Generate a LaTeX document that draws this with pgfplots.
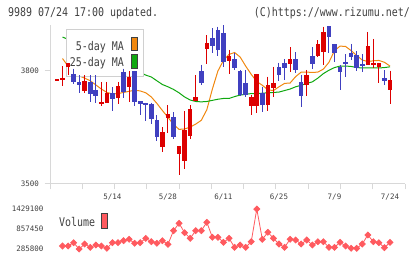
\documentclass[border=0pt]{standalone}
\usepackage{fontspec}
\usepackage{pgfplots}
\usepackage{pgfplotstable}
\pgfplotsset{compat=1.18}

\newfontfamily\pixfam[FakeStretch=0.83]{DejaVu Sans Mono}
\newfontfamily\tickfam{DejaVu Sans Mono}
\newcommand\pixfont{\pixfam\fontsize{12}{14}\selectfont}
\newcommand\tickfont{\tickfam\fontsize{7.5}{9}\selectfont}

\definecolor{cRed}{RGB}{221,0,0}
\definecolor{cBlue}{RGB}{64,64,192}
\definecolor{maOrange}{RGB}{240,136,16}
\definecolor{maGreen}{RGB}{16,168,16}
\definecolor{volRed}{RGB}{255,90,95}
\definecolor{axGrey}{RGB}{216,216,216}
\definecolor{txtGrey}{RGB}{64,64,64}
\definecolor{boxGrey}{RGB}{208,208,208}

% daily candles: index, open, high, low, close
\pgfplotstableread{
i o h l c
0 3776 3776 3776 3776
1 3776 3812 3759 3781
2 3811 3820 3790 3820
5 3748 3789 3742 3774
8 3714 3771 3706 3718
9 3716 3771 3716 3742
11 3728 3771 3713 3759
13 3758 3799 3718 3784
19 3599 3651 3585 3638
20 3675 3709 3636 3686
22 3580 3601 3525 3601
23 3562 3693 3539 3642
24 3627 3709 3619 3698
25 3720 3789 3720 3730
27 3857 3895 3819 3874
31 3827 3856 3793 3840
35 3707 3736 3683 3731
36 3707 3792 3689 3792
38 3710 3785 3695 3763
39 3756 3811 3732 3769
42 3819 3863 3798 3832
45 3763 3803 3734 3789
47 3840 3882 3836 3872
48 3851 3918 3816 3903
56 3815 3904 3815 3866
57 3818 3885 3808 3820
58 3811 3822 3768 3822
60 3750 3801 3712 3776
}\upcandles

\pgfplotstableread{
i o h l c
3 3791 3806 3766 3771
4 3771 3789 3742 3762
6 3771 3789 3718 3738
7 3750 3789 3715 3734
10 3742 3757 3695 3726
12 3797 3806 3728 3744
14 3800 3800 3707 3718
15 3720 3720 3684 3713
16 3716 3716 3667 3711
17 3712 3716 3659 3673
18 3670 3682 3615 3626
21 3677 3691 3620 3626
26 3799 3817 3762 3769
28 3887 3913 3848 3865
29 3909 3918 3840 3856
30 3900 3921 3810 3824
32 3831 3849 3803 3809
33 3801 3803 3734 3736
34 3769 3803 3730 3736
37 3742 3758 3692 3710
40 3811 3822 3774 3789
41 3822 3831 3776 3807
43 3832 3850 3794 3803
44 3772 3789 3705 3734
46 3840 3863 3805 3819
49 3920 3920 3847 3891
50 3872 3872 3825 3849
51 3810 3816 3750 3798
52 3824 3844 3784 3820
53 3847 3872 3829 3836
54 3843 3852 3800 3807
55 3819 3845 3797 3815
59 3781 3802 3763 3774
}\downcandles

% 5-day moving average
\pgfplotstableread{
i v
1 3833
2 3813
3 3797
4 3787
5 3781
6 3774
7 3763
8 3752
9 3743
10 3739
11 3740
12 3743
13 3746
14 3749
15 3747
16 3742
17 3731
18 3714
19 3695
20 3677
21 3658
22 3645
23 3646
24 3651
25 3659
26 3669
27 3697
28 3752
29 3800
30 3828
31 3844
32 3849
33 3837
34 3813
35 3791
36 3772
37 3762
38 3750
39 3748
40 3758
41 3767
42 3768
43 3785
44 3797
45 3797
46 3796
47 3797
48 3805
49 3823
50 3854
51 3866
52 3865
53 3854
54 3841
55 3829
56 3825
57 3827
58 3828
59 3823
60 3813
}\maFive

% 25-day moving average
\pgfplotstableread{
i v
1 3890
2 3884
3 3877
4 3870
5 3864
6 3857
7 3850
8 3844
9 3837
10 3831
11 3824
12 3817
13 3811
14 3804
15 3796
16 3789
17 3784
18 3774
19 3764
20 3758
21 3751
22 3742
23 3731
24 3723
25 3719
26 3718
27 3719
28 3722
29 3725
30 3727
31 3727
32 3732
33 3736
34 3738
35 3740
36 3740
37 3741
38 3742
39 3743
40 3744
41 3748
42 3752
43 3758
44 3762
45 3767
46 3771
47 3781
48 3793
49 3802
50 3809
51 3813
52 3813
53 3812
54 3809
55 3808
56 3808
57 3808
58 3808
59 3809
60 3811
}\maTwentyFive

% daily volume
\pgfplotstableread{
i v
1 371500
2 371500
3 465900
4 285800
5 428700
6 334400
7 400100
8 371500
9 305800
10 465900
11 465900
12 523000
13 563000
14 448700
15 465900
16 591600
17 494500
18 448700
19 523000
20 420100
21 808900
22 1020300
23 751700
24 591600
25 808900
26 808900
27 1048900
28 620200
29 620200
30 477300
31 591600
32 334400
33 400100
34 334400
35 494500
36 1429100
37 563000
38 763000
39 591600
40 428700
41 334400
42 563000
43 543000
44 428700
45 543000
46 400100
47 494500
48 494500
49 334400
50 334400
51 477300
52 371500
53 305800
54 305800
55 428700
56 686000
57 494500
58 465900
59 323000
60 477300
}\volume

\pgfplotsset{
  chartbase/.style={
    scale only axis, width=355pt, anchor=north west,
    xmin=-1.25, xmax=62.7,
    tick label style={font=\tickfont, text=txtGrey},
    scaled y ticks=false,
  },
  wick/.style={draw=none, mark=none, forget plot,
    error bars/.cd, y dir=both, y explicit, error mark=none,
    error bar style={line width=1pt, draw=#1}},
  body/.style={draw=none, mark=none, forget plot,
    error bars/.cd, y dir=both, y explicit, error mark=none,
    error bar style={line width=4.6pt, draw=#1}},
}

\begin{document}
\begin{tikzpicture}
\useasboundingbox (0pt,0pt) rectangle (420pt,-259pt);

\node[anchor=base west, inner sep=0, font=\pixfont, text=txtGrey] at (8pt,-16.5pt) {9989 07/24 17:00 updated.};
\node[anchor=base east, inner sep=0, font=\pixfont, text=txtGrey] at (410pt,-16.5pt) {(C)https://www.rizumu.net/};

% price panel: frame and moving averages
\begin{axis}[chartbase, at={(50pt,-25pt)}, height=159pt,
  ymin=3500, ymax=3922,
  axis x line*=bottom, axis y line*=left,
  axis line style={draw=axGrey, line width=1pt},
  xtick={-1.25,4.5636,10.377,16.191,22.005,27.818,33.632,39.445,45.259,51.073,56.886,62.7},
  xticklabels={},
  ytick={3500,3800}, yticklabels={3500,3800},
  tick style={draw=axGrey, line width=1pt},
  major tick length=5.5pt, tick align=outside,
  yticklabel style={xshift=-2pt},
]
\addplot[maOrange, line width=1pt] table[x=i, y=v] {\maFive};
\addplot[maGreen, line width=1pt] table[x=i, y=v] {\maTwentyFive};
\end{axis}

% moving-average legend
\draw[boxGrey, line width=1pt, fill=white] (66pt,-30pt) rectangle (143pt,-77pt);
\node[anchor=base east, inner sep=0, font=\pixfont, text=txtGrey] at (124pt,-50.3pt) {5-day MA};
\node[anchor=base east, inner sep=0, font=\pixfont, text=txtGrey] at (124pt,-67pt) {25-day MA};
\draw[txtGrey, line width=1pt, fill=maOrange] (131pt,-37.5pt) rectangle (137.5pt,-51pt);
\draw[txtGrey, line width=1pt, fill=maGreen] (131pt,-55pt) rectangle (137.5pt,-69pt);

% price panel: candles
\begin{axis}[chartbase, at={(50pt,-25pt)}, height=159pt,
  ymin=3500, ymax=3922, hide axis]
\addplot[wick=cRed] table[x=i, y=h, y error plus expr=0,
  y error minus expr=\thisrow{h}-\thisrow{l}] {\upcandles};
\addplot[body=cRed] table[x=i, y expr=(\thisrow{o}+\thisrow{c})/2,
  y error expr={max(abs(\thisrow{c}-\thisrow{o})/2,1.4)}] {\upcandles};
\addplot[wick=cBlue] table[x=i, y=h, y error plus expr=0,
  y error minus expr=\thisrow{h}-\thisrow{l}] {\downcandles};
\addplot[body=cBlue] table[x=i, y expr=(\thisrow{o}+\thisrow{c})/2,
  y error expr={max(abs(\thisrow{c}-\thisrow{o})/2,1.4)}] {\downcandles};
\end{axis}

% volume panel
\begin{axis}[chartbase, at={(50pt,-209pt)}, height=40pt,
  ymin=285800, ymax=1429100, clip=false,
  axis line style={draw=none}, major tick length=0pt,
  ytick={285800,857450,1429100}, yticklabels={285800,857450,1429100},
  yticklabel style={xshift=-3pt},
  xtick={10,20,30,40,50,60},
  xticklabels={5/14,5/28,6/11,6/25,7/9,7/24},
  xticklabel pos=right,
  xticklabel style={yshift=5pt},
]
\addplot[volRed, line width=0.8pt, mark=square*, mark size=2.1pt,
  mark options={rotate=45, fill=volRed, draw=volRed}] table[x=i, y=v] {\volume};
\end{axis}

\node[anchor=base west, inner sep=0, font=\pixfont, text=txtGrey] at (59pt,-226pt) {Volume};
\draw[txtGrey, line width=1pt, fill=volRed] (101.5pt,-213pt) rectangle (107.5pt,-228pt);
\end{tikzpicture}
\end{document}
